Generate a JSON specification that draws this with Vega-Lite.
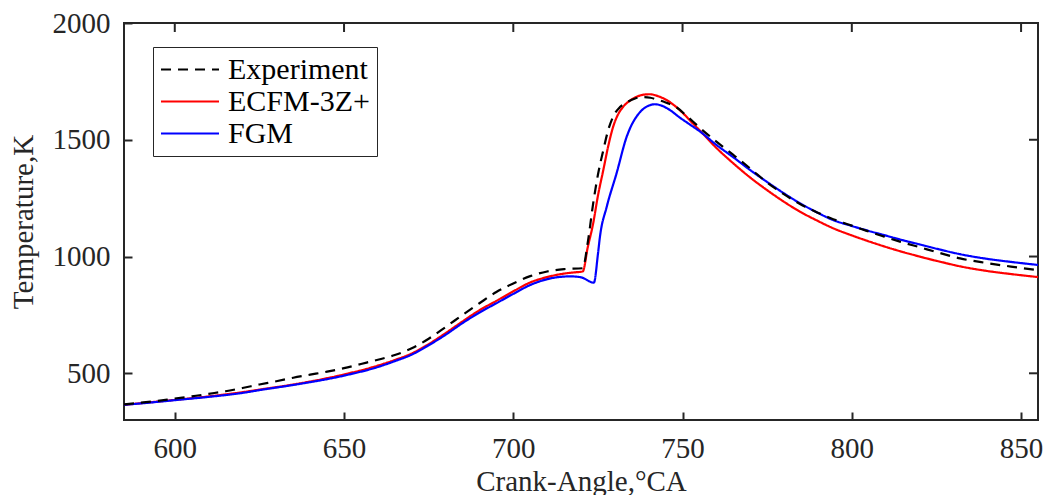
{
  "$schema": "https://vega.github.io/schema/vega-lite/v6.json",
  "autosize": "none",
  "width": 914,
  "height": 397,
  "padding": {"left": 124, "top": 23, "right": 8, "bottom": 75},
  "background": "white",
  "config": {
    "view": {"stroke": "#262626", "strokeWidth": 2},
    "axis": {
      "grid": false,
      "domain": false,
      "ticks": true,
      "tickSize": 8,
      "tickWidth": 2,
      "tickColor": "#262626",
      "labelFont": "Liberation Serif",
      "labelFontSize": 29,
      "labelColor": "#262626",
      "titleFont": "Liberation Serif",
      "titleFontSize": 29,
      "titleFontWeight": "normal",
      "titleColor": "#262626"
    }
  },
  "datasets": {
    "xticks": [{"v": 600}, {"v": 650}, {"v": 700}, {"v": 750}, {"v": 800}, {"v": 850}],
    "yticks": [{"v": 500}, {"v": 1000}, {"v": 1500}, {"v": 2000}],
    "curves": [
      {"s":"ECFM-3Z+","x":585,"y":365},{"s":"ECFM-3Z+","x":590,"y":372},{"s":"ECFM-3Z+","x":600,"y":386},{"s":"ECFM-3Z+","x":610,"y":401},{"s":"ECFM-3Z+","x":620,"y":419},{"s":"ECFM-3Z+","x":625,"y":430},{"s":"ECFM-3Z+","x":635,"y":452},{"s":"ECFM-3Z+","x":650,"y":495},{"s":"ECFM-3Z+","x":660,"y":533},{"s":"ECFM-3Z+","x":665,"y":557},{"s":"ECFM-3Z+","x":670,"y":585},{"s":"ECFM-3Z+","x":675,"y":625},{"s":"ECFM-3Z+","x":680,"y":672},{"s":"ECFM-3Z+","x":685,"y":722},{"s":"ECFM-3Z+","x":690,"y":770},{"s":"ECFM-3Z+","x":695,"y":810},{"s":"ECFM-3Z+","x":700,"y":851},{"s":"ECFM-3Z+","x":705,"y":889},{"s":"ECFM-3Z+","x":710,"y":912},{"s":"ECFM-3Z+","x":715,"y":927},{"s":"ECFM-3Z+","x":718,"y":932},{"s":"ECFM-3Z+","x":720.5,"y":936},{"s":"ECFM-3Z+","x":722,"y":1040},{"s":"ECFM-3Z+","x":723.6,"y":1142},{"s":"ECFM-3Z+","x":725,"y":1260},{"s":"ECFM-3Z+","x":726.6,"y":1371},{"s":"ECFM-3Z+","x":728,"y":1470},{"s":"ECFM-3Z+","x":729.5,"y":1556},{"s":"ECFM-3Z+","x":731,"y":1610},{"s":"ECFM-3Z+","x":732.5,"y":1642},{"s":"ECFM-3Z+","x":734.5,"y":1668},{"s":"ECFM-3Z+","x":736.4,"y":1684},{"s":"ECFM-3Z+","x":738.5,"y":1693},{"s":"ECFM-3Z+","x":740.4,"y":1695},{"s":"ECFM-3Z+","x":742.5,"y":1688},{"s":"ECFM-3Z+","x":745.3,"y":1670},{"s":"ECFM-3Z+","x":748,"y":1642},{"s":"ECFM-3Z+","x":750.2,"y":1613},{"s":"ECFM-3Z+","x":752.5,"y":1578},{"s":"ECFM-3Z+","x":755.2,"y":1538},{"s":"ECFM-3Z+","x":760,"y":1465},{"s":"ECFM-3Z+","x":765,"y":1399},{"s":"ECFM-3Z+","x":770,"y":1338},{"s":"ECFM-3Z+","x":774.9,"y":1285},{"s":"ECFM-3Z+","x":779.8,"y":1236},{"s":"ECFM-3Z+","x":784.7,"y":1192},{"s":"ECFM-3Z+","x":789.6,"y":1155},{"s":"ECFM-3Z+","x":794.5,"y":1121},{"s":"ECFM-3Z+","x":799.5,"y":1093},{"s":"ECFM-3Z+","x":804.4,"y":1068},{"s":"ECFM-3Z+","x":809,"y":1046},{"s":"ECFM-3Z+","x":814.2,"y":1023},{"s":"ECFM-3Z+","x":820,"y":1000},{"s":"ECFM-3Z+","x":826,"y":978},{"s":"ECFM-3Z+","x":832,"y":958},{"s":"ECFM-3Z+","x":840,"y":938},{"s":"ECFM-3Z+","x":847,"y":925},{"s":"ECFM-3Z+","x":855,"y":912},
      {"s":"FGM","x":585,"y":365},{"s":"FGM","x":590,"y":371},{"s":"FGM","x":600,"y":385},{"s":"FGM","x":610,"y":399},{"s":"FGM","x":620,"y":416},{"s":"FGM","x":625,"y":428},{"s":"FGM","x":635,"y":450},{"s":"FGM","x":650,"y":490},{"s":"FGM","x":660,"y":527},{"s":"FGM","x":665,"y":552},{"s":"FGM","x":670,"y":580},{"s":"FGM","x":675,"y":620},{"s":"FGM","x":680,"y":665},{"s":"FGM","x":685,"y":715},{"s":"FGM","x":690,"y":760},{"s":"FGM","x":695,"y":800},{"s":"FGM","x":700,"y":840},{"s":"FGM","x":705,"y":878},{"s":"FGM","x":710,"y":903},{"s":"FGM","x":714,"y":913},{"s":"FGM","x":717,"y":915},{"s":"FGM","x":720,"y":911},{"s":"FGM","x":723.8,"y":888},{"s":"FGM","x":725,"y":1010},{"s":"FGM","x":725.6,"y":1085},{"s":"FGM","x":727.6,"y":1213},{"s":"FGM","x":730.5,"y":1356},{"s":"FGM","x":733.5,"y":1513},{"s":"FGM","x":735,"y":1565},{"s":"FGM","x":736.4,"y":1599},{"s":"FGM","x":739.4,"y":1642},{"s":"FGM","x":741.9,"y":1652},{"s":"FGM","x":744,"y":1645},{"s":"FGM","x":746.3,"y":1627},{"s":"FGM","x":749,"y":1597},{"s":"FGM","x":752.2,"y":1565},{"s":"FGM","x":755.2,"y":1535},{"s":"FGM","x":760,"y":1478},{"s":"FGM","x":765,"y":1425},{"s":"FGM","x":770,"y":1370},{"s":"FGM","x":774.9,"y":1320},{"s":"FGM","x":779.8,"y":1272},{"s":"FGM","x":784.7,"y":1228},{"s":"FGM","x":789.6,"y":1190},{"s":"FGM","x":794.5,"y":1156},{"s":"FGM","x":799.5,"y":1133},{"s":"FGM","x":804.4,"y":1112},{"s":"FGM","x":809,"y":1094},{"s":"FGM","x":814.2,"y":1073},{"s":"FGM","x":820,"y":1052},{"s":"FGM","x":826,"y":1030},{"s":"FGM","x":832,"y":1010},{"s":"FGM","x":840,"y":990},{"s":"FGM","x":847,"y":977},{"s":"FGM","x":855,"y":964},
      {"s":"Experiment","x":585,"y":367},{"s":"Experiment","x":590,"y":374},{"s":"Experiment","x":595,"y":382},{"s":"Experiment","x":600,"y":392},{"s":"Experiment","x":605,"y":401},{"s":"Experiment","x":610,"y":412},{"s":"Experiment","x":615,"y":423},{"s":"Experiment","x":620,"y":437},{"s":"Experiment","x":625,"y":452},{"s":"Experiment","x":630,"y":466},{"s":"Experiment","x":635,"y":481},{"s":"Experiment","x":640,"y":494},{"s":"Experiment","x":645,"y":507},{"s":"Experiment","x":650,"y":522},{"s":"Experiment","x":655,"y":540},{"s":"Experiment","x":660,"y":558},{"s":"Experiment","x":665,"y":578},{"s":"Experiment","x":670,"y":607},{"s":"Experiment","x":675,"y":648},{"s":"Experiment","x":680,"y":698},{"s":"Experiment","x":685,"y":750},{"s":"Experiment","x":690,"y":800},{"s":"Experiment","x":695,"y":848},{"s":"Experiment","x":700,"y":885},{"s":"Experiment","x":705,"y":916},{"s":"Experiment","x":710,"y":936},{"s":"Experiment","x":715,"y":946},{"s":"Experiment","x":720.5,"y":950},{"s":"Experiment","x":722,"y":1060},{"s":"Experiment","x":723.6,"y":1228},{"s":"Experiment","x":725,"y":1350},{"s":"Experiment","x":726.6,"y":1456},{"s":"Experiment","x":728,"y":1540},{"s":"Experiment","x":729.5,"y":1599},{"s":"Experiment","x":731.5,"y":1640},{"s":"Experiment","x":733.5,"y":1660},{"s":"Experiment","x":736,"y":1677},{"s":"Experiment","x":738.4,"y":1683},{"s":"Experiment","x":740.5,"y":1680},{"s":"Experiment","x":742.3,"y":1673},{"s":"Experiment","x":745,"y":1660},{"s":"Experiment","x":748.3,"y":1638},{"s":"Experiment","x":751,"y":1605},{"s":"Experiment","x":755.2,"y":1550},{"s":"Experiment","x":760,"y":1492},{"s":"Experiment","x":765,"y":1435},{"s":"Experiment","x":770,"y":1377},{"s":"Experiment","x":774.9,"y":1318},{"s":"Experiment","x":779.8,"y":1268},{"s":"Experiment","x":784.7,"y":1225},{"s":"Experiment","x":789.6,"y":1190},{"s":"Experiment","x":794.5,"y":1160},{"s":"Experiment","x":799.5,"y":1135},{"s":"Experiment","x":804.4,"y":1110},{"s":"Experiment","x":809,"y":1088},{"s":"Experiment","x":814.2,"y":1064},{"s":"Experiment","x":820,"y":1040},{"s":"Experiment","x":826,"y":1015},{"s":"Experiment","x":832,"y":992},{"s":"Experiment","x":840,"y":972},{"s":"Experiment","x":847,"y":957},{"s":"Experiment","x":855,"y":942}
    ]
  },
  "layer": [
    {
      "data": {"name": "curves"},
      "mark": {"type": "line", "strokeWidth": 2.2, "interpolate": "monotone"},
      "encoding": {
        "x": {"field": "x", "type": "quantitative",
              "scale": {"domain": [585, 855], "nice": false, "zero": false},
              "axis": {"values": [600, 650, 700, 750, 800, 850], "title": "Crank-Angle,°CA", "offset": -8, "labelPadding": 14, "titlePadding": 4}},
        "y": {"field": "y", "type": "quantitative",
              "scale": {"domain": [300, 2000], "nice": false, "zero": false},
              "axis": {"values": [500, 1000, 1500, 2000], "format": "d", "title": "Temperature,K", "offset": -8, "labelPadding": 14, "titlePadding": 14}},
        "color": {"field": "s", "type": "nominal",
                  "scale": {"domain": ["Experiment", "ECFM-3Z+", "FGM"], "range": ["#000000", "#ff0000", "#0000ff"]},
                  "legend": {"title": null, "orient": "none", "legendX": 29, "legendY": 24,
                             "symbolType": "M-1,0H3", "symbolSize": 841, "symbolStrokeWidth": 2,
                             "labelFont": "Liberation Serif", "labelFontSize": 30, "labelColor": "#000000",
                             "labelOffset": 37, "rowPadding": 1, "padding": 7,
                             "strokeColor": "#262626", "fillColor": "white"}},
        "strokeDash": {"field": "s", "type": "nominal",
                       "scale": {"domain": ["Experiment", "ECFM-3Z+", "FGM"], "range": [[10, 7], [1, 0], [1, 0]]},
                       "legend": {"title": null}}
      }
    },
    {
      "data": {"name": "xticks"},
      "mark": {"type": "rule", "strokeWidth": 2, "color": "#262626", "y2Offset": 9},
      "encoding": {"x": {"field": "v", "type": "quantitative"}, "y": {"datum": 2000}, "y2": {"datum": 2000}}
    },
    {
      "data": {"name": "yticks"},
      "mark": {"type": "rule", "strokeWidth": 2, "color": "#262626", "x2Offset": -9},
      "encoding": {"y": {"field": "v", "type": "quantitative"}, "x": {"datum": 855}, "x2": {"datum": 855}}
    }
  ]
}
